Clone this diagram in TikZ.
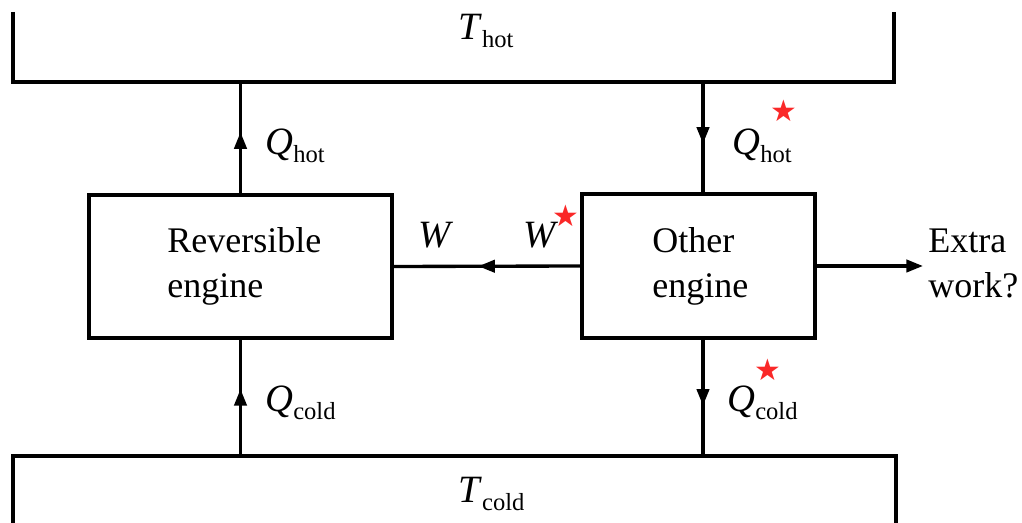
\documentclass[tikz,border=0pt]{standalone}
\usepackage{fontspec}
\setmainfont{Liberation Serif}
\newfontfamily\symfont{DejaVu Sans}
\usetikzlibrary{arrows.meta,decorations.markings,calc}
\definecolor{starred}{RGB}{250,40,40}
\newcommand\qlbl[2]{\textit{#1}\raisebox{-4.5pt}{\fontsize{14}{14}\selectfont #2}}
\tikzset{
  wire/.style={line width=1.9pt},
  midarr/.style={postaction={decorate},decoration={markings,mark=at position #1 with {\arrow{Triangle[length=9.5pt,width=7pt]}}}},
  endarr/.style={-{Triangle[length=9.5pt,width=7pt]}},
  enginebox/.style={draw,line width=1.9pt,inner sep=0pt},
  boxtext/.style={align=left,inner sep=0pt,anchor=north west,font=\fontsize{20.5}{25.6}\selectfont},
  lbl/.style={inner sep=0pt,anchor=base west,font=\fontsize{22}{26}\selectfont},
  starlbl/.style={inner sep=0pt,text=starred,font=\symfont\fontsize{17}{17}\selectfont}
}
\begin{document}
\begin{tikzpicture}[x=0.02cm,y=-0.02cm]
\useasboundingbox (0,0) rectangle (1022,523);
% reservoirs
\draw[wire] (13,12) -- (13,82) -- (894,82) -- (894,12);
\draw[wire] (13,523) -- (13,456) -- (896,456) -- (896,523);
\node[lbl] (Th) at (458,40) {\qlbl{T}{hot}};
\node[lbl] (Tc) at (458,503) {\qlbl{T}{cold}};
\coordinate (hotA) at (240.5,82);
\coordinate (hotB) at (703,82);
\coordinate (coldA) at (240.5,456);
\coordinate (coldB) at (703,456);
% engines
\node[enginebox,minimum width=6.06cm,minimum height=2.86cm] (Lbox) at (240.5,266.5) {};
\node[enginebox,minimum width=4.66cm,minimum height=2.88cm] (Rbox) at (698.5,266) {};
\node[boxtext] (Ltxt) at (167,227.5) {Reversible\\engine};
\node[boxtext] (Rtxt) at (652,227.5) {Other\\engine};
\node[boxtext] (extra) at (928,229) {Extra\\work?};
\coordinate (extraEnd) at (923,266);
% connectors
\draw[wire,midarr=0.55] (Lbox.north) -- (hotA);
\draw[wire,midarr=0.56] (hotB) -- (hotB |- Rbox.north);
\draw[wire,midarr=0.576] (coldA) -- (Lbox.south);
\draw[wire,midarr=0.568] (coldB |- Rbox.south) -- (coldB);
\draw[wire,midarr=0.547] (Rbox.west) -- (Lbox.east);
\draw[wire,endarr] (Rbox.east) -- (extraEnd);
% labels
\node[lbl] (qhL) at (265,155) {\qlbl{Q}{hot}};
\node[lbl] (qhR) at (732,155) {\qlbl{Q}{hot}};
\node[lbl] (wL) at (418,248) {\textit{W}};
\node[lbl] (wR) at (523,248) {\textit{W}};
\node[lbl] (qcL) at (265,412) {\qlbl{Q}{cold}};
\node[lbl] (qcR) at (727,412) {\qlbl{Q}{cold}};
\node[starlbl] (s1) at (784,111) {★};
\node[starlbl] (s2) at (566,216) {★};
\node[starlbl] (s3) at (768,370) {★};
\end{tikzpicture}
\end{document}
